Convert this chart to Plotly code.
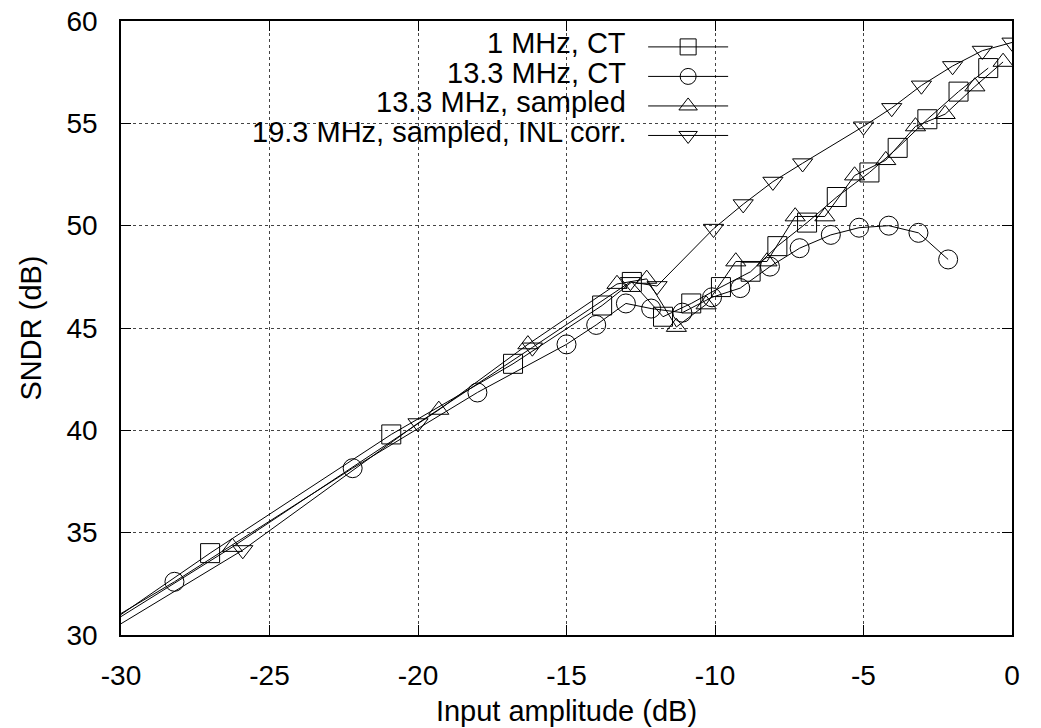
import plotly.graph_objects as go

FONT = "Liberation Sans, Arial, sans-serif"

names = ["1 MHz, CT", "13.3 MHz, CT", "13.3 MHz, sampled", "19.3 MHz, sampled, INL corr."]
symbols = ["square-open", "circle-open", "triangle-up-open", "triangle-down-open"]

x_ticks = [-30, -25, -20, -15, -10, -5, 0]
x_tick_text = ["-30", "-25", "-20", "-15", "-10", "-5", "0"]
y_ticks = [30, 35, 40, 45, 50, 55, 60]
y_tick_text = ["30", "35", "40", "45", "50", "55", "60"]

# line start values at the left edge (x = -30), drawn without a marker
line_start_x = -30
start_y = [31.0, 31.05, 30.9, 30.55]

ct1_x = [-27.0, -20.9, -16.8, -13.8, -12.8, -11.75, -10.8, -9.8, -8.8, -7.9, -6.9, -5.9, -4.8, -3.85, -2.85, -1.8, -0.8]
ct1_y = [34.0, 39.8, 43.25, 46.1, 47.25, 45.55, 46.2, 47.0, 47.75, 49.0, 50.15, 51.4, 52.6, 53.8, 55.2, 56.55, 57.7]

ct13_x = [-28.2, -22.2, -18.0, -15.0, -14.0, -13.0, -12.15, -11.1, -10.1, -9.15, -8.15, -7.15, -6.1, -5.15, -4.15, -3.15, -2.15]
ct13_y = [32.6, 38.15, 41.85, 44.2, 45.15, 46.2, 45.95, 45.75, 46.5, 46.95, 48.0, 48.9, 49.55, 49.9, 50.0, 49.65, 48.35]

s13_x = [-26.25, -19.3, -16.3, -13.3, -12.3, -11.3, -10.3, -9.3, -8.25, -7.3, -6.3, -5.3, -4.25, -3.25, -2.25, -1.25, -0.3]
s13_y = [34.3, 41.0, 44.2, 47.15, 47.4, 45.05, 46.15, 48.25, 48.25, 50.45, 50.45, 52.45, 53.2, 54.85, 55.45, 56.8, 58.0]

s19_x = [-25.9, -20.0, -16.15, -12.85, -11.95, -10.05, -9.05, -8.05, -7.05, -5.0, -4.05, -3.05, -2.0, -1.0, 0.0]
s19_y = [34.15, 40.35, 44.05, 47.25, 47.05, 49.85, 51.05, 52.15, 53.05, 54.85, 55.75, 56.85, 57.8, 58.55, 58.95]

series_x = [ct1_x, ct13_x, s13_x, s19_x]
series_y = [ct1_y, ct13_y, s13_y, s19_y]

fig = go.Figure()
for i in range(4):
    xs, ys = series_x[i], series_y[i]
    # leading line segment from the left edge to the first marker
    fig.add_trace(go.Scatter(
        x=[line_start_x, xs[0]], y=[start_y[i], ys[0]], mode="lines",
        line=dict(color="black", width=1), showlegend=False, hoverinfo="skip"))
    fig.add_trace(go.Scatter(
        x=xs, y=ys, mode="lines+markers", name=" ",
        line=dict(color="black", width=1),
        marker=dict(symbol=symbols[i], size=19 if i < 2 else 17.5,
                    color="black", line=dict(color="black", width=1)),
        showlegend=True))

axis_common = dict(
    showline=True, linecolor="black", linewidth=1.5, mirror="ticks",
    ticks="inside", ticklen=10, tickwidth=1, tickcolor="black",
    showgrid=True, gridcolor="#444", griddash="dot", gridwidth=1,
    zeroline=False, tickfont=dict(family=FONT, size=28, color="black"),
)

fig.update_xaxes(range=[-30, 0], tickvals=x_ticks, ticktext=x_tick_text, ticklabelstandoff=15,
                 title=dict(text="Input amplitude (dB)", standoff=10,
                            font=dict(family=FONT, size=29, color="black")),
                 **axis_common)
fig.update_yaxes(range=[30, 60], tickvals=y_ticks, ticktext=y_tick_text, ticklabelstandoff=16,
                 title=dict(text="SNDR (dB)", standoff=16,
                            font=dict(family=FONT, size=29, color="black")),
                 **axis_common)

# opaque key area (hides grid behind the key, like gnuplot)
fig.add_shape(type="rect", xref="paper", yref="paper", x0=0.117, x1=0.689, y0=0.80, y1=1.0,
              fillcolor="white", line=dict(width=0), layer="between")

rows_y = [0.9645, 0.9156, 0.8676, 0.82]
for name, yy in zip(names, rows_y):
    fig.add_annotation(xref="paper", yref="paper", x=0.569, y=yy, text=name,
                       showarrow=False, xanchor="right", yanchor="middle",
                       font=dict(family=FONT, size=29, color="black"))

fig.update_layout(
    width=1041, height=728,
    margin=dict(l=121, r=29, t=21, b=93, autoexpand=False),
    paper_bgcolor="white", plot_bgcolor="white",
    showlegend=True,
    legend=dict(x=0.586, y=0.99, xanchor="left", yanchor="top",
                bgcolor="rgba(0,0,0,0)", borderwidth=0, itemwidth=80,
                font=dict(family=FONT, size=20.4), tracegroupgap=0),
    font=dict(family=FONT, color="black"),
)

fig.write_html("out.html")
